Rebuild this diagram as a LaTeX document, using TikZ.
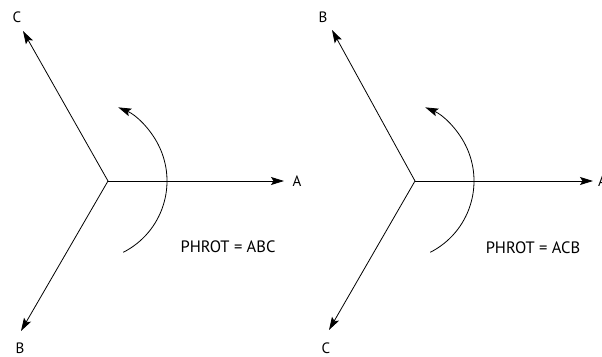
\documentclass[tikz,border=0pt]{standalone}
\usepackage{fontspec}
\setmainfont{PT Sans}
\usetikzlibrary{arrows.meta}
\begin{document}
\begin{tikzpicture}[x=1pt,y=1pt,
  vec/.style={line width=0.8pt,-{Stealth[length=13pt,width=8pt,inset=2.5pt]}},
  lbl/.style={font=\fontsize{15}{15}\selectfont,inner sep=0pt},
  txt/.style={font=\fontsize{16.5}{16.5}\selectfont,inner sep=0pt}]
\useasboundingbox (0,0) rectangle (602,356);
% left diagram
\coordinate (O1) at (108,175);
\coordinate (A1) at (284,175);
\coordinate (C1) at (23,325);
\coordinate (B1) at (21,25);
\node[lbl] (lA1) at (297,175) {A};
\node[lbl] (lC1) at (17,339) {C};
\node[lbl] (lB1) at (20,8) {B};
\draw[vec] (O1) -- (A1);
\draw[vec] (O1) -- (C1);
\draw[vec] (O1) -- (B1);
\draw[vec] ([shift={(-63:80)}]87,175) arc[start angle=-63,end angle=67,radius=80];
\node[txt] (t1) at (228,109) {PHROT = ABC};
% right diagram
\coordinate (O2) at (415,175);
\coordinate (A2) at (593,175);
\coordinate (B2) at (332,326);
\coordinate (C2) at (329,26);
\node[lbl,anchor=west] (lA2) at (598,175) {A};
\node[lbl] (lB2) at (323,339) {B};
\node[lbl] (lC2) at (326,8) {C};
\draw[vec] (O2) -- (A2);
\draw[vec] (O2) -- (B2);
\draw[vec] (O2) -- (C2);
\draw[vec] ([shift={(-63:80)}]394,175) arc[start angle=-63,end angle=67,radius=80];
\node[txt] (t2) at (533,108) {PHROT = ACB};
\end{tikzpicture}
\end{document}
